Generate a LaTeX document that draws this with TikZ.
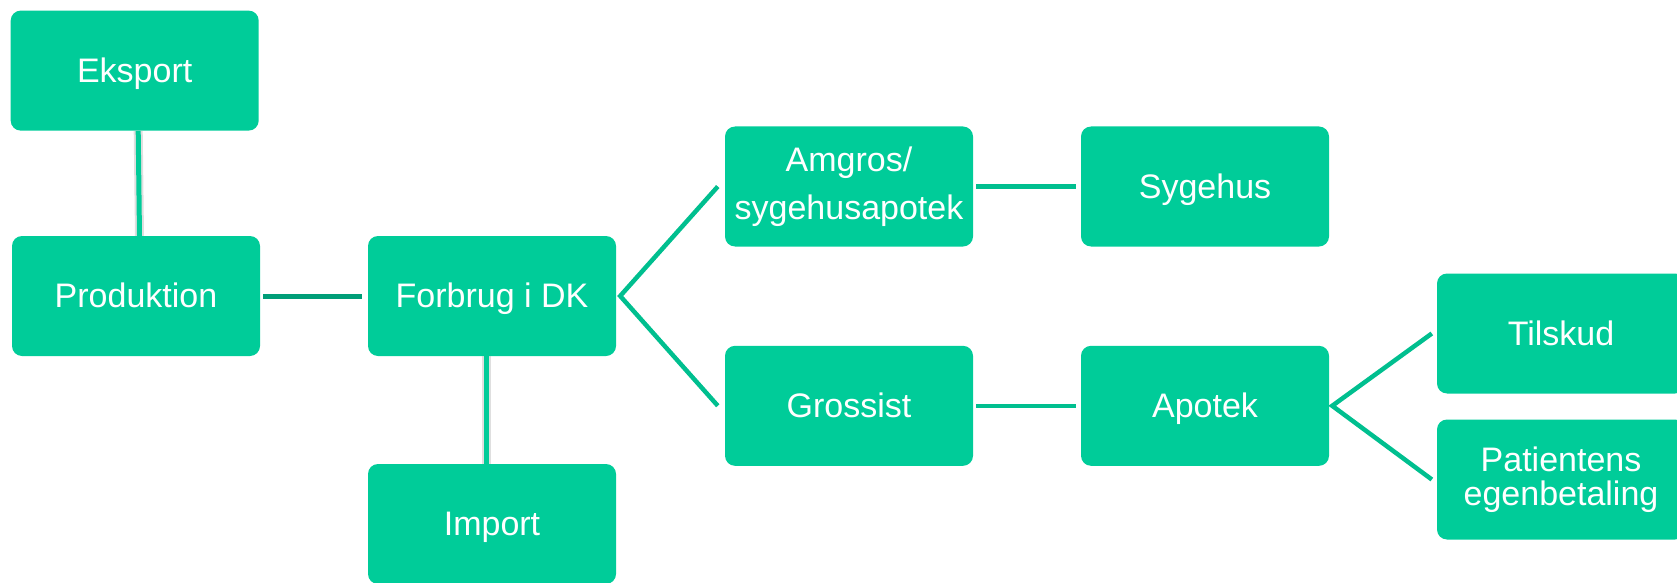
\documentclass[tikz,border=0pt]{standalone}
\usepackage{fontspec}
\setmainfont{Liberation Sans}
\usepackage{xcolor}
\usepackage{tikz}
\definecolor{boxgreen}{HTML}{00CC99}
\definecolor{linegreen}{HTML}{00BF8F}
\definecolor{darkgreen}{HTML}{009E78}
\newcommand\boxstrut{\rule[-0.212em]{0pt}{1.117em}}
\begin{document}
\begin{tikzpicture}[x=1pt,y=-1pt]
\tikzstyle{every node}+=[inner sep=0pt]
\tikzstyle{box}=[fill=boxgreen, rounded corners=10pt, minimum width=248pt, minimum height=120pt, align=center, text=white, font=\fontsize{34}{34}\selectfont, execute at begin node=\boxstrut, execute at end node=\boxstrut]
\tikzstyle{link}=[draw=linegreen, line width=4.5pt]
\useasboundingbox (0,0) rectangle (1677,583);
\clip (0,0) rectangle (1677,583);
\node [box] (eksport) at (134.7,70.6) {Eksport};
\node [box] (produktion) at (136,296) {Produktion};
\node [box] (forbrug) at (492,296) {Forbrug i DK};
\node [box] (import) at (492,524) {Import};
\node [box, font=\fontsize{34}{47.7}\selectfont] (amgros) at (849,186.5) {Amgros/\\sygehusapotek};
\node [box] (sygehus) at (1205,186.5) {Sygehus};
\node [box] (grossist) at (849,405.8) {Grossist};
\node [box] (apotek) at (1205,405.8) {Apotek};
\node [box] (tilskud) at (1561,333.5) {Tilskud};
\node [box] (patient) at (1561,479.5) {Patientens\\egenbetaling};
\draw [black!25, line width=9pt, opacity=0.5] ([xshift=3.5pt]eksport.south) -- ([xshift=3.5pt]produktion.north);
\draw [draw=boxgreen, line width=5pt] ([xshift=3.5pt]eksport.south) -- ([xshift=3.5pt]produktion.north);
\draw [black!25, line width=9pt, opacity=0.5] ([xshift=-6pt]forbrug.south) -- ([xshift=-6pt]import.north);
\draw [draw=boxgreen, line width=5pt] ([xshift=-6pt]forbrug.south) -- ([xshift=-6pt]import.north);
\draw [draw=darkgreen, line width=5pt] ([xshift=3pt]produktion.east) -- ([xshift=-6pt]forbrug.west);
\draw [link] ([xshift=-7pt]amgros.west) -- ([xshift=4pt]forbrug.east) -- ([xshift=-7pt]grossist.west);
\draw [link] ([xshift=3pt]amgros.east) -- ([xshift=-5pt]sygehus.west);
\draw [link] ([xshift=3pt]grossist.east) -- ([xshift=-5pt]apotek.west);
\draw [link] ([xshift=-5pt]tilskud.west) -- ([xshift=3pt]apotek.east) -- ([xshift=-5pt]patient.west);
\end{tikzpicture}
\end{document}
